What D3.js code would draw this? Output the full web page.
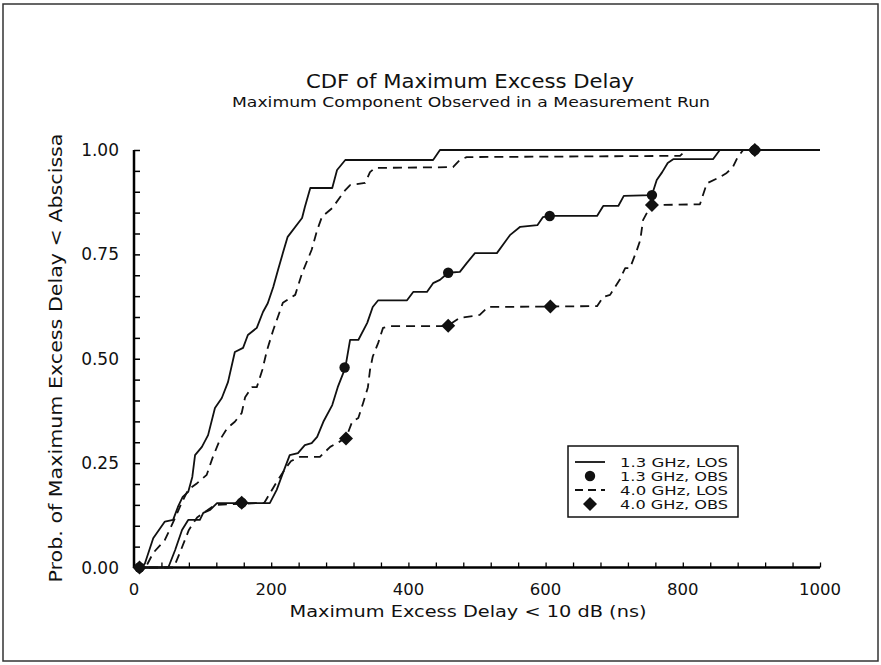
<!DOCTYPE html>
<html>
<head>
<meta charset="utf-8">
<script src="https://cdn.jsdelivr.net/npm/d3@7"></script>
<style>
  html, body { margin: 0; padding: 0; background: #fff; }
  svg { display: block; }
  text { font-family: "DejaVu Sans", sans-serif; fill: #111; }
</style>
</head>
<body>
<svg id="chart" width="881" height="665"></svg>
<script>
// Cumulative distributions of maximum excess delay, [delay ns, probability]
const los13 = [
  [0,0],[13,0.004],[16,0.01],[28,0.07],[45,0.11],[57,0.114],[64,0.145],[71,0.169],[79,0.181],
  [85,0.217],[89,0.269],[99,0.289],[108,0.317],[118,0.382],[128,0.406],[137,0.444],[147,0.516],
  [159,0.526],[166,0.557],[179,0.574],[188,0.612],[195,0.633],[203,0.672],[210,0.713],[217,0.753],
  [224,0.792],[245,0.837],[249,0.863],[257,0.909],[289,0.909],[296,0.952],[308,0.976],[436,0.976],
  [446,1.0],[1000,1.0]
];
const los40 = [
  [0,0],[17,0],[28,0.035],[45,0.066],[60,0.119],[70,0.157],[79,0.186],[92,0.202],[106,0.222],
  [115,0.265],[125,0.305],[136,0.334],[147,0.349],[157,0.37],[162,0.408],[172,0.432],[179,0.432],
  [187,0.473],[194,0.521],[203,0.569],[217,0.634],[235,0.653],[245,0.705],[259,0.761],[267,0.808],
  [274,0.84],[289,0.861],[308,0.904],[315,0.916],[337,0.921],[344,0.947],[351,0.957],[465,0.959],
  [475,0.976],[485,0.983],[796,0.986],[805,1.0],[1000,1.0]
];
const obs13 = [
  [0,0],[50,0],[60,0.042],[70,0.09],[79,0.114],[96,0.114],[101,0.131],[111,0.138],[121,0.154],
  [198,0.154],[208,0.186],[217,0.226],[227,0.269],[239,0.274],[249,0.293],[259,0.298],[267,0.313],
  [276,0.349],[289,0.389],[297,0.432],[308,0.478],[315,0.545],[327,0.545],[340,0.586],[348,0.624],
  [356,0.64],[398,0.64],[407,0.66],[427,0.66],[436,0.681],[446,0.689],[458,0.706],[475,0.708],
  [485,0.729],[497,0.753],[529,0.753],[548,0.796],[563,0.816],[588,0.82],[596,0.839],[606,0.842],
  [675,0.842],[684,0.866],[706,0.866],[714,0.89],[755,0.892],[762,0.928],[770,0.947],[778,0.969],
  [786,0.978],[844,0.978],[854,1.0],[1000,1.0]
];
const obs40 = [
  [0,0],[58,0],[68,0.04],[80,0.09],[92,0.12],[105,0.135],[118,0.15],[190,0.155],[208,0.205],
  [222,0.24],[229,0.255],[242,0.265],[271,0.265],[286,0.289],[309,0.31],[318,0.349],[327,0.358],
  [334,0.394],[341,0.432],[344,0.473],[348,0.505],[356,0.538],[363,0.574],[373,0.578],[456,0.578],
  [475,0.598],[494,0.602],[504,0.605],[516,0.624],[675,0.626],[684,0.648],[694,0.653],[708,0.689],
  [716,0.717],[723,0.717],[733,0.76],[738,0.784],[742,0.832],[752,0.863],[755,0.868],[825,0.87],
  [835,0.92],[854,0.935],[864,0.945],[873,0.959],[880,0.983],[888,1.0],[1000,1.0]
];
// Symbols placed along the obstructed-path curves
const obs13Marks = [[8,0],[157,0.155],[307,0.479],[458,0.706],[606,0.842],[755,0.892],[905,1.0]];
const obs40Marks = [[8,0],[157,0.155],[309,0.309],[458,0.579],[607,0.625],[755,0.868],[905,1.0]];

const xTicks = [0, 200, 400, 600, 800, 1000];
const yTicks = [0, 0.25, 0.5, 0.75, 1.0];
const legendLabels = ["1.3 GHz, LOS", "1.3 GHz, OBS", "4.0 GHz, LOS", "4.0 GHz, OBS"];

const svg = d3.select("#chart");
const x = d3.scaleLinear().domain([0, 1000]).range([134, 820]);
const y = d3.scaleLinear().domain([0, 1]).range([567.5, 150]);

// outer frame
svg.append("rect").attr("x", 3).attr("y", 4).attr("width", 875).attr("height", 657)
  .attr("fill", "none").attr("stroke", "#333").attr("stroke-width", 1.5);

// titles
svg.append("text").attr("x", 470).attr("y", 88).attr("text-anchor", "middle")
  .attr("font-size", 19).attr("textLength", 328).attr("lengthAdjust", "spacingAndGlyphs")
  .text("CDF of Maximum Excess Delay");
svg.append("text").attr("x", 471).attr("y", 107).attr("text-anchor", "middle")
  .attr("font-size", 14).attr("textLength", 478).attr("lengthAdjust", "spacingAndGlyphs")
  .text("Maximum Component Observed in a Measurement Run");

// axes
const xAxis = d3.axisBottom(x).tickValues(d3.range(0, 1001, 40)).tickSize(-5).tickFormat("");
const gx = svg.append("g").attr("transform", `translate(0,${y(0)})`).call(xAxis);
gx.select(".domain").attr("d", `M${x(0)},0H${x(1000)}`).attr("stroke-width", 2.5);
gx.selectAll(".tick line").attr("stroke-width", 1.3);

const yAxis = d3.axisLeft(y).tickValues(d3.range(0, 1.0001, 0.05)).tickSize(-6).tickFormat("");
const gy = svg.append("g").attr("transform", `translate(${x(0)},0)`).call(yAxis);
gy.select(".domain").attr("d", `M0,${y(0)}V${y(1)}`).attr("stroke-width", 2.5);
gy.selectAll(".tick line").attr("stroke-width", 1.5);

svg.append("g").selectAll("text").data(xTicks).join("text")
  .attr("x", d => x(d)).attr("y", 595).attr("text-anchor", "middle")
  .attr("font-size", 16.5).text(d => d);
svg.append("g").selectAll("text").data(yTicks).join("text")
  .attr("x", 119).attr("y", d => y(d) + 6).attr("text-anchor", "end")
  .attr("font-size", 17).text(d => d3.format(".2f")(d));

svg.append("text").attr("x", 468).attr("y", 617).attr("text-anchor", "middle")
  .attr("font-size", 16).attr("textLength", 357).attr("lengthAdjust", "spacingAndGlyphs")
  .text("Maximum Excess Delay < 10 dB (ns)");
svg.append("text").attr("transform", "translate(62,358) rotate(-90)").attr("text-anchor", "middle")
  .attr("font-size", 17).attr("textLength", 449).attr("lengthAdjust", "spacingAndGlyphs")
  .text("Prob. of Maximum Excess Delay < Abscissa");

// curves
const line = d3.line().x(d => x(d[0])).y(d => y(d[1]));
const series = [
  { data: los13, dash: null },
  { data: los40, dash: "9,6" },
  { data: obs13, dash: null },
  { data: obs40, dash: "9,6" }
];
svg.append("g").selectAll("path").data(series).join("path")
  .attr("d", d => line(d.data)).attr("fill", "none").attr("stroke", "#111")
  .attr("stroke-width", 1.8).attr("stroke-linejoin", "round")
  .attr("stroke-dasharray", d => d.dash);

const circleSym = d3.symbol().type(d3.symbolCircle).size(85);
const diamondPath = "M0,-7L7,0L0,7L-7,0Z";
svg.append("g").selectAll("path").data(obs40Marks).join("path")
  .attr("transform", d => `translate(${x(d[0])},${y(d[1])})`).attr("d", diamondPath).attr("fill", "#111");
svg.append("g").selectAll("path").data(obs13Marks).join("path")
  .attr("transform", d => `translate(${x(d[0])},${y(d[1])})`).attr("d", circleSym()).attr("fill", "#111");

// legend
const lg = svg.append("g");
lg.append("rect").attr("x", 568).attr("y", 446).attr("width", 170).attr("height", 71)
  .attr("fill", "#fff").attr("stroke", "#111").attr("stroke-width", 1.5);
const rowY = [462, 476, 490, 504];
lg.append("line").attr("x1", 575).attr("x2", 605).attr("y1", rowY[0]).attr("y2", rowY[0])
  .attr("stroke", "#111").attr("stroke-width", 1.8);
lg.append("path").attr("transform", `translate(590,${rowY[1]})`).attr("d", circleSym()).attr("fill", "#111");
lg.append("line").attr("x1", 575).attr("x2", 605).attr("y1", rowY[2]).attr("y2", rowY[2])
  .attr("stroke", "#111").attr("stroke-width", 1.8).attr("stroke-dasharray", "8,5");
lg.append("path").attr("transform", `translate(590,${rowY[3]})`).attr("d", diamondPath).attr("fill", "#111");
lg.selectAll("text.lab").data(legendLabels).join("text").attr("class", "lab")
  .attr("x", 620).attr("y", (d, i) => rowY[i] + 5).attr("font-size", 12.5)
  .attr("textLength", 108).attr("lengthAdjust", "spacingAndGlyphs").text(d => d);
</script>
</body>
</html>
